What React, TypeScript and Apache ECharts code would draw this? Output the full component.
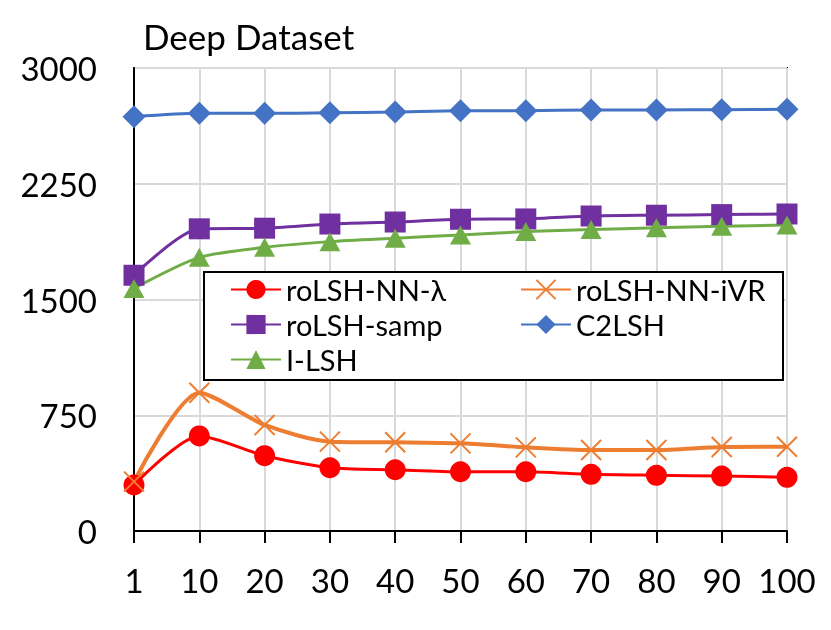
import React, { useEffect, useRef } from "react";
import * as echarts from "echarts";

const categories = ["1", "10", "20", "30", "40", "50", "60", "70", "80", "90", "100"];
const rolshNNLambda = [298, 616, 488, 410, 397, 384, 384, 367, 361, 356, 348];
const rolshNNiVR = [320, 896, 687, 579, 575, 568, 542, 525, 525, 544, 546];
const rolshSamp = [1657, 1958, 1962, 1989, 2002, 2020, 2022, 2041, 2046, 2050, 2054];
const c2lsh = [2684, 2706, 2706, 2710, 2715, 2723, 2723, 2728, 2728, 2730, 2732];
const ilsh = [1572, 1773, 1838, 1875, 1897, 1918, 1940, 1953, 1965, 1974, 1983];
const yTicks = [0, 750, 1500, 2250, 3000];

const FONT = "Lato";
const CROSS = "path://M0,0L10,10M10,0L0,10";

export default function App() {
  const ref = useRef<HTMLDivElement>(null);
  useEffect(() => {
    if (!ref.current) return;
    const chart = echarts.init(ref.current, null, { renderer: "svg" });
    const mk = (name: string, data: number[], color: string, symbol: string, size: number | number[], extra: any = {}) => ({
      name,
      type: "line",
      data,
      smooth: 0.25,
      symbol,
      symbolSize: size,
      showAllSymbol: true,
      lineStyle: { color, width: 3 },
      itemStyle: { color },
      z: 3,
      ...extra,
    });
    const legendText = { fontFamily: FONT, fontSize: 29, color: "#000", padding: [0, 0, 0, 0] };
    chart.setOption({
      animation: false,
      textStyle: { fontFamily: FONT },
      title: {
        text: "Deep Dataset",
        left: 143,
        top: 18,
        padding: 0,
        textStyle: { fontFamily: FONT, fontSize: 35, fontWeight: "normal", color: "#000" },
      },
      grid: {
        left: 134,
        right: 44,
        top: 68,
        bottom: 99,
        containLabel: false,
        show: true,
        borderColor: "#000",
        borderWidth: 2,
        backgroundColor: "transparent",
      },
      xAxis: {
        type: "category",
        data: categories,
        boundaryGap: false,
        axisLine: { lineStyle: { color: "#000", width: 2 } },
        axisTick: { show: true, inside: false, length: 12, interval: 0, lineStyle: { color: "#000", width: 2 } },
        axisLabel: { color: "#000", fontSize: 33, fontFamily: FONT, margin: 32, interval: 0 },
        splitLine: { show: true, interval: 0, lineStyle: { color: "#D9D9D9", width: 2 } },
      },
      yAxis: {
        type: "value",
        min: yTicks[0],
        max: yTicks[yTicks.length - 1],
        interval: 750,
        axisLine: { show: true, lineStyle: { color: "#000", width: 2 } },
        axisTick: { show: false },
        axisLabel: { color: "#000", fontSize: 33, fontFamily: FONT, margin: 37, formatter: (v: number) => String(v) },
        splitLine: { show: true, lineStyle: { color: "#D9D9D9", width: 2 } },
      },
      legend: [
        {
          orient: "vertical",
          left: 230,
          top: 275,
          padding: 0,
          itemGap: 6,
          itemWidth: 50,
          itemHeight: 24,
          z: 20,
          textStyle: legendText,
          data: ["roLSH-NN-λ", "roLSH-samp", "I-LSH"],
        },
        {
          orient: "vertical",
          left: 520,
          top: 275,
          padding: 0,
          itemGap: 6,
          itemWidth: 50,
          itemHeight: 24,
          z: 20,
          textStyle: legendText,
          data: ["roLSH-NN-iVR", "C2LSH"],
        },
      ],
      graphic: [
        {
          type: "rect",
          shape: { x: 204, y: 272, width: 579, height: 108 },
          style: { fill: "#fff", stroke: "#000", lineWidth: 2 },
          z: 10,
        },
      ],
      series: [
        mk("roLSH-NN-λ", rolshNNLambda, "#FF0000", "circle", 21),
        mk("roLSH-NN-iVR", rolshNNiVR, "#ED7D31", CROSS, 20, {
          itemStyle: { color: "rgba(0,0,0,0)", borderColor: "#ED7D31", borderWidth: 2 },
          lineStyle: { color: "#ED7D31", width: 4 },
        }),
        mk("roLSH-samp", rolshSamp, "#7030A0", "rect", 21),
        mk("C2LSH", c2lsh, "#4472C4", "diamond", [23, 23]),
        mk("I-LSH", ilsh, "#70AD47", "triangle", [21, 19]),
      ],
    });
    return () => chart.dispose();
  }, []);
  return <div ref={ref} style={{ position: "fixed", left: 0, top: 0, width: 831, height: 630 }} />;
}
